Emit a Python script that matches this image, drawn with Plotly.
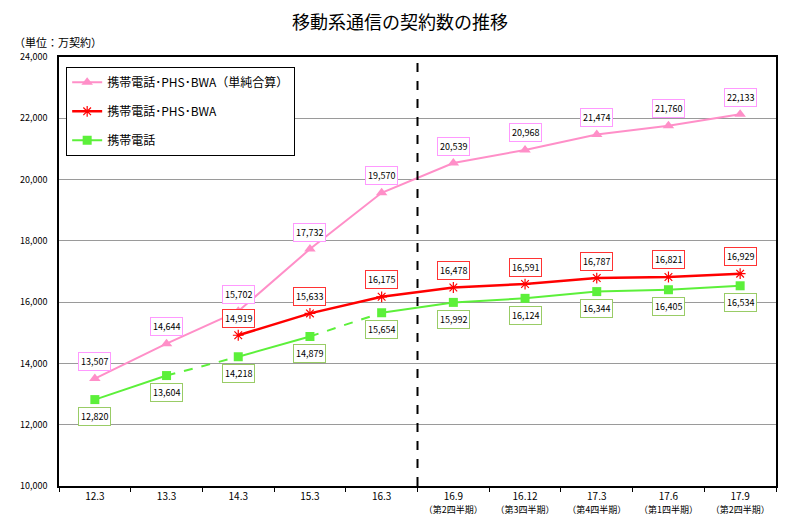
import plotly.graph_objects as go

categories = ["12.3", "13.3", "14.3", "15.3", "16.3", "16.9", "16.12", "17.3", "17.6", "17.9"]
sub_labels = ["", "", "", "", "", "（第2四半期）", "（第3四半期）", "（第4四半期）", "（第1四半期）", "（第2四半期）"]

total = [13507, 14644, 15702, 17732, 19570, 20539, 20968, 21474, 21760, 22133]
mobile_phs_bwa = [None, None, 14919, 15633, 16175, 16478, 16591, 16787, 16821, 16929]
mobile = [12820, 13604, 14218, 14879, 15654, 15992, 16124, 16344, 16405, 16534]

# green line: which segments are dashed (index of segment start)
dashed_from = [1, 3]

PINK = "#ff8fc8"
RED = "#ff0000"
GREEN = "#5cf03a"
FONT = "Noto Sans CJK JP"

fig = go.Figure()

# green segments
for i in range(len(categories) - 1):
    fig.add_trace(go.Scatter(
        x=categories[i:i + 2], y=mobile[i:i + 2], mode="lines",
        line=dict(color=GREEN, width=2, dash="dash" if i in dashed_from else "solid"),
        showlegend=False, hoverinfo="skip",
    ))
fig.add_trace(go.Scatter(
    x=categories, y=mobile, mode="markers",
    marker=dict(symbol="square", size=9, color=GREEN),
    showlegend=False,
))

fig.add_trace(go.Scatter(
    x=categories, y=mobile_phs_bwa, mode="lines+markers", name="携帯電話･PHS･BWA",
    line=dict(color=RED, width=2.5),
    marker=dict(symbol="asterisk-open", size=9, color=RED, line=dict(color=RED, width=1.2)),
    legendgroup="b", legendrank=2,
))
fig.add_trace(go.Scatter(
    x=categories, y=total, mode="lines+markers", name="携帯電話･PHS･BWA（単純合算）",
    line=dict(color=PINK, width=2),
    marker=dict(symbol="triangle-up", size=10, color=PINK),
    legendgroup="a", legendrank=1,
))
# legend entry for green
fig.add_trace(go.Scatter(
    x=[categories[0]], y=[None], mode="lines+markers", name="携帯電話",
    line=dict(color=GREEN, width=2),
    marker=dict(symbol="square", size=9, color=GREEN),
    legendgroup="c", legendrank=3,
))

def add_labels(values, border, shift):
    for i, v in enumerate(values):
        if v is None:
            continue
        fig.add_annotation(
            x=i, y=v, text=f"{v:,}", showarrow=False, yshift=shift,
            font=dict(family=FONT, size=9, color="black"),
            bgcolor="white", bordercolor=border, borderwidth=1, borderpad=2,
        )

add_labels(total, "#ff99ff", 17)
add_labels(mobile_phs_bwa, "#ff3333", 17)
add_labels(mobile, "#99cc66", -17)

ticktext = [c if not s else f"{c}<br><span style='font-size:9px'>{s}</span>"
            for c, s in zip(categories, sub_labels)]

fig.add_shape(type="line", xref="x", yref="paper", x0=4.5, x1=4.5, y0=0, y1=1,
              line=dict(color="black", width=2, dash="dash"))

fig.add_annotation(xref="paper", yref="paper", x=-0.065, y=1.0, xanchor="left", yanchor="bottom",
                   yshift=5, text="（単位：万契約）", showarrow=False,
                   font=dict(family=FONT, size=11, color="black"))

fig.update_layout(
    width=800, height=532,
    margin=dict(l=40, r=32, t=49, b=54),
    paper_bgcolor="white", plot_bgcolor="white",
    font=dict(family=FONT, size=10, color="black"),
    title=dict(text="移動系通信の契約数の推移", x=0.49, xanchor="center", y=0.972, yanchor="middle",
               font=dict(family=FONT, size=18, color="black")),
    showlegend=True,
    legend=dict(x=0.01, y=0.977, xanchor="left", yanchor="top", bgcolor="white",
                bordercolor="black", borderwidth=1, tracegroupgap=10, itemwidth=30,
                font=dict(family=FONT, size=12, color="black")),
    xaxis=dict(
        type="category", categoryorder="array", categoryarray=categories,
        tickmode="array", tickvals=categories, ticktext=ticktext, range=[-0.5, 9.5],
        tickangle=0,
        showgrid=False, showline=True, linecolor="black", linewidth=1.5, mirror=True,
        ticks="outside", tickson="boundaries", ticklen=4, tickcolor="black",
        tickfont=dict(family=FONT, size=10),
    ),
    yaxis=dict(
        range=[10000, 24000], dtick=2000, tickformat=",d",
        showgrid=True, gridcolor="#9a9a9a", gridwidth=1,
        showline=True, linecolor="black", linewidth=1.5, mirror=True,
        ticks="", zeroline=False, ticklabelstandoff=8,
        tickfont=dict(family=FONT, size=9),
    ),
)

fig.write_html("out.html")
